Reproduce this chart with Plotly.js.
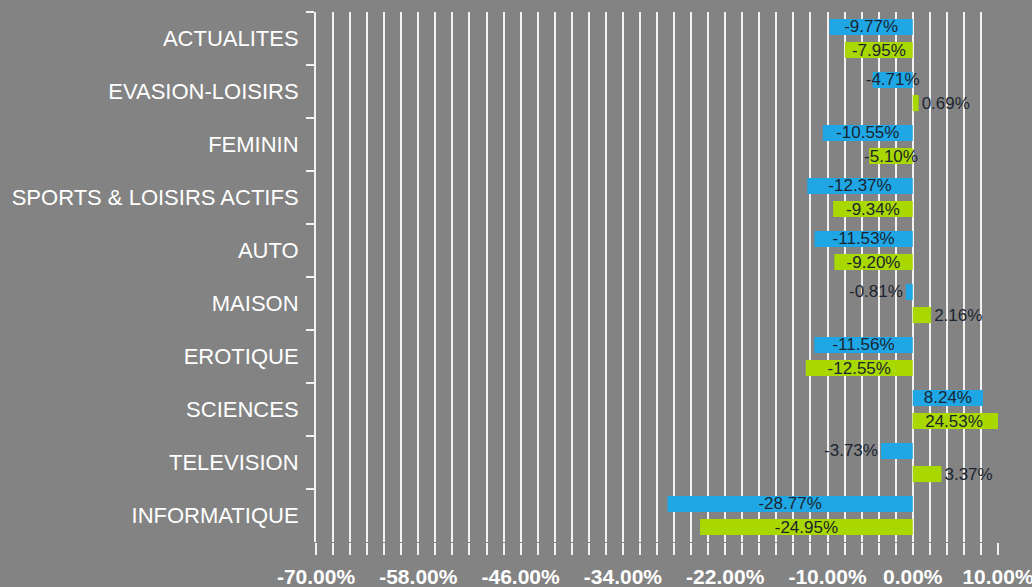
<!DOCTYPE html>
<html>
<head>
<meta charset="utf-8">
<script src="https://cdn.plot.ly/plotly-3.0.1.min.js"></script>
<style>
  html, body { margin: 0; padding: 0; background: #838383; }
  #chart { width: 1032px; height: 587px; }
</style>
</head>
<body>
<div id="chart"></div>
<script>
// ---- Data ----
const categories = [
  "ACTUALITES", "EVASION-LOISIRS", "FEMININ", "SPORTS & LOISIRS ACTIFS", "AUTO",
  "MAISON", "EROTIQUE", "SCIENCES", "TELEVISION", "INFORMATIQUE"
];
const seriesBlue  = [-9.77, -4.71, -10.55, -12.37, -11.53, -0.81, -11.56, 8.24, -3.73, -28.77];
const seriesGreen = [-7.95, 0.69, -5.10, -9.34, -9.20, 2.16, -12.55, 24.53, 3.37, -24.95];
const xTickVals   = [-70, -58, -46, -34, -22, -10, 0, 10];
const xTickLabels = ["-70.00%", "-58.00%", "-46.00%", "-34.00%", "-22.00%", "-10.00%", "0.00%", "10.00%"];

// ---- Styling ----
const X_RANGE = [-70, 10];
const BG = "#838383";
const BLUE = "#1ea7e4";
const GREEN = "#a8d800";
const LABEL_COLOR = "#1b2430";
const FONT = "Liberation Sans, Arial, sans-serif";
const fmt = v => v.toFixed(2) + "%";
const overflows = v => v > X_RANGE[1] || v < X_RANGE[0];
const txtFont = { family: FONT, size: 17, color: LABEL_COLOR };

function barTrace(cats, values, labels, color, group, anchor) {
  return {
    type: "bar",
    orientation: "h",
    y: cats,
    x: values,
    text: labels,
    textposition: "auto",
    insidetextanchor: anchor,
    constraintext: "none",
    cliponaxis: true,
    offsetgroup: group,
    textfont: txtFont,
    insidetextfont: txtFont,
    outsidetextfont: txtFont,
    marker: { color: color, line: { width: 0 } },
    hoverinfo: "y+x"
  };
}

// points whose bar runs past the axis end get their label anchored at the bar start
const greenOver = categories.map((c, i) => overflows(seriesGreen[i]) ? i : -1).filter(i => i >= 0);

const data = [
  barTrace(categories, seriesBlue, seriesBlue.map(fmt), BLUE, "blue", "middle"),
  barTrace(categories, seriesGreen, seriesGreen.map(v => overflows(v) ? "" : fmt(v)), GREEN, "green", "middle"),
  Object.assign(
    barTrace(greenOver.map(i => categories[i]), greenOver.map(i => seriesGreen[i]),
             greenOver.map(i => "  " + fmt(seriesGreen[i])), GREEN, "green", "start"),
    { textposition: "inside" }
  )
];

const layout = {
  width: 1032,
  height: 587,
  paper_bgcolor: BG,
  plot_bgcolor: BG,
  showlegend: false,
  barmode: "group",
  bargap: 0.13,
  bargroupgap: 0.3,
  margin: { l: 316, r: 34, t: 12, b: 45, pad: 0 },
  xaxis: {
    range: X_RANGE,
    tickmode: "array",
    tickvals: xTickVals,
    ticktext: xTickLabels,
    ticks: "outside",
    ticklen: 12,
    tickwidth: 2,
    tickcolor: "#f2f2f2",
    ticklabelstandoff: 4,
    ticklabeloverflow: "allow",
    showgrid: true,
    gridcolor: "#f2f2f2",
    gridwidth: 2,
    zeroline: false,
    showline: false,
    tickfont: { family: FONT, size: 21, color: "#ffffff", weight: "bold" },
    minor: {
      tickmode: "linear",
      tick0: -70,
      dtick: 2,
      showgrid: true,
      gridcolor: "#f2f2f2",
      gridwidth: 2,
      ticks: "outside",
      ticklen: 12,
      tickwidth: 2,
      tickcolor: "#f2f2f2"
    },
    fixedrange: true
  },
  yaxis: {
    type: "category",
    categoryorder: "array",
    categoryarray: categories,
    autorange: "reversed",
    showline: true,
    linecolor: "#f2f2f2",
    linewidth: 2,
    ticks: "outside",
    tickson: "boundaries",
    ticklen: 8,
    tickwidth: 2,
    tickcolor: "#f2f2f2",
    showgrid: false,
    zeroline: false,
    ticklabelstandoff: 11,
    tickfont: { family: FONT, size: 22, color: "#ffffff" },
    fixedrange: true
  }
};

Plotly.newPlot("chart", data, layout, { displayModeBar: false, staticPlot: true });
</script>
</body>
</html>
